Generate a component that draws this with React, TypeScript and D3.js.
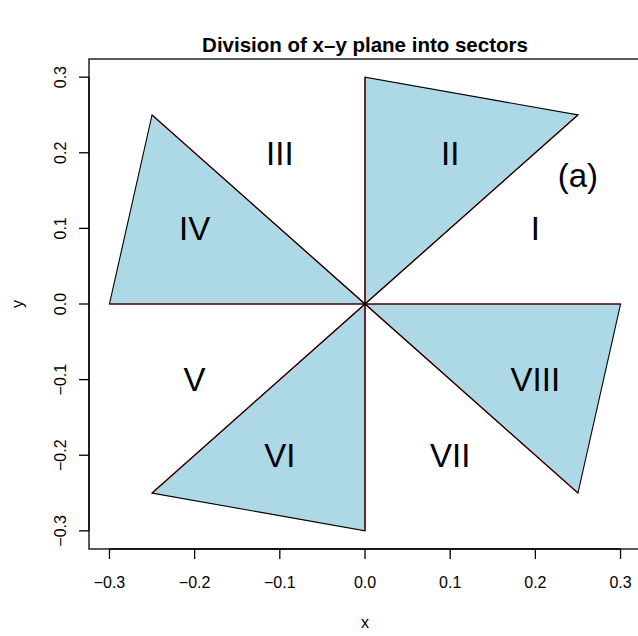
import React from "react";
import * as d3 from "d3";

const xTicks = [-0.3, -0.2, -0.1, 0.0, 0.1, 0.2, 0.3];
const yTicks = [-0.3, -0.2, -0.1, 0.0, 0.1, 0.2, 0.3];

// filled triangles (each: origin + two vertices)
const triangles: [number, number][][] = [
  [[0, 0], [0, 0.3], [0.25, 0.25]],
  [[0, 0], [-0.3, 0], [-0.25, 0.25]],
  [[0, 0], [0, -0.3], [-0.25, -0.25]],
  [[0, 0], [0.3, 0], [0.25, -0.25]],
];

// rays from origin
const rayEnds: [number, number][] = [
  [0, 0.3], [0.25, 0.25], [-0.3, 0], [-0.25, 0.25],
  [0, -0.3], [-0.25, -0.25], [0.3, 0], [0.25, -0.25],
];

const sectorLabels = ["I", "II", "III", "IV", "V", "VI", "VII", "VIII", "(a)"];
const labelX = [0.2, 0.1, -0.1, -0.2, -0.2, -0.1, 0.1, 0.2, 0.25];
const labelY = [0.1, 0.2, 0.2, 0.1, -0.1, -0.2, -0.2, -0.1, 0.17];

const W = 638;
const H = 636;
const L = 89, R = 641, T = 59, B = 549;

export default function App() {
  const x = d3.scaleLinear().domain([-0.324, 0.324]).range([L, R]);
  const y = d3.scaleLinear().domain([-0.324, 0.324]).range([B, T]);
  const font = "'Liberation Sans', Arial, Helvetica, sans-serif";
  const fmt = (v: number) => v.toFixed(1).replace("-", "\u2212");
  const line = d3.line<[number, number]>().x((d) => x(d[0])).y((d) => y(d[1]));
  const labFs = 33;

  return (
    <svg
      width={W}
      height={H}
      style={{ position: "absolute", left: 0, top: 0, background: "#fff" }}
      fontFamily={font}
    >
      <rect x={0} y={0} width={W} height={H} fill="#fff" />
      <text x={365} y={52} textAnchor="middle" fontSize={20.5} fontWeight="bold">
        Division of x{"\u2013"}y plane into sectors
      </text>

      {triangles.map((t, i) => (
        <path key={"f" + i} d={line(t)! + "Z"} fill="#ADD8E6" stroke="none" />
      ))}
      {rayEnds.map((p, i) => (
        <line
          key={"r" + i}
          x1={x(0)} y1={y(0)} x2={x(p[0])} y2={y(p[1])}
          stroke="#e00000" strokeWidth={1.2}
        />
      ))}
      {triangles.map((t, i) => (
        <path key={"s" + i} d={line(t)! + "Z"} fill="none" stroke="#000" strokeWidth={1.1} strokeLinejoin="miter" />
      ))}
      <circle cx={x(0)} cy={y(0)} r={1.8} fill="#000" />

      {sectorLabels.map((s, i) => (
        <text
          key={"l" + i}
          x={x(labelX[i])}
          y={y(labelY[i]) + labFs * 0.358}
          textAnchor="middle"
          fontSize={labFs}
        >
          {s}
        </text>
      ))}

      <rect x={L} y={T} width={R - L} height={B - T} fill="none" stroke="#000" strokeWidth={1.3} />

      {/* x axis */}
      <line x1={x(-0.3)} x2={x(0.3)} y1={B} y2={B} stroke="#000" strokeWidth={1.3} />
      {xTicks.map((v) => (
        <g key={"xt" + v}>
          <line x1={x(v)} x2={x(v)} y1={B} y2={B + 10} stroke="#000" strokeWidth={1.3} />
          <text x={x(v)} y={B + 39} textAnchor="middle" fontSize={16}>
            {fmt(v)}
          </text>
        </g>
      ))}
      <text x={x(0)} y={628} textAnchor="middle" fontSize={16}>x</text>

      {/* y axis */}
      <line x1={L} x2={L} y1={y(-0.3)} y2={y(0.3)} stroke="#000" strokeWidth={1.3} />
      {yTicks.map((v) => (
        <g key={"yt" + v}>
          <line x1={L} x2={L - 10} y1={y(v)} y2={y(v)} stroke="#000" strokeWidth={1.3} />
          <text
            transform={`translate(${L - 23},${y(v)}) rotate(-90)`}
            textAnchor="middle"
            fontSize={16}
          >
            {fmt(v)}
          </text>
        </g>
      ))}
      <text transform={`translate(23,${y(0)}) rotate(-90)`} textAnchor="middle" fontSize={16}>
        y
      </text>
    </svg>
  );
}
